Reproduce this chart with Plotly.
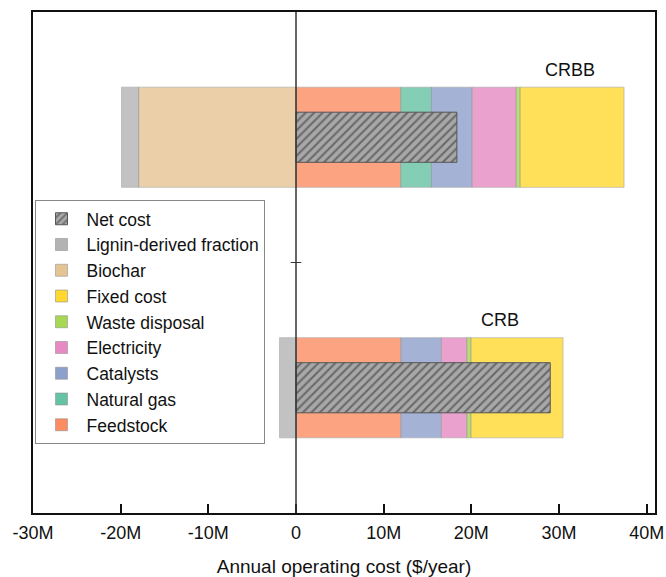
import plotly.graph_objects as go

# Annual operating cost breakdown, in millions of $/year
scenarios = ["CRB", "CRBB"]
y_pos = [0, 1]

feedstock = [11.97, 11.95]
natural_gas = [0.0, 3.50]
catalysts = [4.61, 4.64]
electricity = [2.92, 5.03]
waste_disposal = [0.46, 0.45]
fixed_cost = [10.50, 11.85]
biochar = [0.0, -17.95]
lignin = [-1.88, -1.95]
net_cost = [29.0, 18.35]

x_ticks = [-30, -20, -10, 0, 10, 20, 30, 40]
x_tick_text = ["-30M", "-20M", "-10M", "0", "10M", "20M", "30M", "40M"]

FONT = "Arial, Liberation Sans, sans-serif"

components = [
    ("Feedstock", feedstock, "#FC8D62", 9),
    ("Natural gas", natural_gas, "#66C2A5", 8),
    ("Catalysts", catalysts, "#8DA0CB", 7),
    ("Electricity", electricity, "#E78AC3", 6),
    ("Waste disposal", waste_disposal, "#A6D854", 5),
    ("Fixed cost", fixed_cost, "#FFD92F", 4),
    ("Biochar", biochar, "#E5C494", 3),
    ("Lignin-derived fraction", lignin, "#B3B3B3", 2),
]

fig = go.Figure()
for name, vals, color, rank in components:
    fig.add_trace(go.Bar(
        name=name,
        y=y_pos,
        x=[v if v != 0 else None for v in vals],
        orientation="h",
        width=0.4,
        marker=dict(color=color, opacity=0.8,
                    line=dict(color="rgba(140,140,140,0.55)", width=1)),
        legendrank=rank,
    ))

# Net cost drawn over the stacked components (explicit base -> overlay)
fig.add_trace(go.Bar(
    name="Net cost",
    y=y_pos,
    x=net_cost,
    base=[0, 0],
    orientation="h",
    width=0.2,
    marker=dict(
        color="#A8A8A8",
        line=dict(color="#555555", width=1),
        pattern=dict(shape="/", fgcolor="#2a2a2a", bgcolor="#A8A8A8",
                     size=6, solidity=0.35),
    ),
    legendrank=1,
))

# Scenario labels above each bar
for name, yy, xx in zip(scenarios, y_pos, [23.3, 31.2]):
    fig.add_annotation(x=xx, y=yy + 0.27, text=name, showarrow=False,
                       font=dict(family=FONT, size=18, color="#111111"))

# Zero line on top of the bars, with a small tick between the scenarios
fig.add_shape(type="line", xref="x", yref="paper", x0=0, x1=0, y0=0, y1=1,
              line=dict(color="#333333", width=1.5), layer="above")
fig.add_shape(type="line", xref="x", yref="y", x0=-0.6, x1=0.6, y0=0.5, y1=0.5,
              line=dict(color="#333333", width=1), layer="above")

fig.update_layout(
    width=666, height=577,
    margin=dict(l=33, r=11, t=12, b=64, autoexpand=False),
    barmode="relative",
    plot_bgcolor="white",
    paper_bgcolor="white",
    font=dict(family=FONT, size=18, color="#111111"),
    showlegend=True,
    legend=dict(
        x=0.004, y=0.625, xanchor="left", yanchor="top",
        bgcolor="white", bordercolor="#888888", borderwidth=1,
        font=dict(family=FONT, size=17.5, color="#111111"),
        traceorder="normal", itemwidth=40,
    ),
    xaxis=dict(
        range=[-30, 40.95],
        automargin=False,
        tickvals=x_ticks, ticktext=x_tick_text,
        ticks="inside", ticklen=9, tickwidth=1.5, tickcolor="#111111",
        ticklabelstandoff=2,
        showline=True, linecolor="#111111", linewidth=2, mirror=True,
        showgrid=False, zeroline=False,
        tickfont=dict(family=FONT, size=18, color="#111111"),
        title=dict(text="Annual operating cost ($/year)",
                   font=dict(family=FONT, size=19, color="#111111"),
                   standoff=22),
    ),
    yaxis=dict(
        range=[-0.5, 1.5],
        automargin=False,
        showticklabels=False, ticks="",
        showline=True, linecolor="#111111", linewidth=2, mirror=True,
        showgrid=False, zeroline=False,
    ),
)

fig.write_html("out.html")
